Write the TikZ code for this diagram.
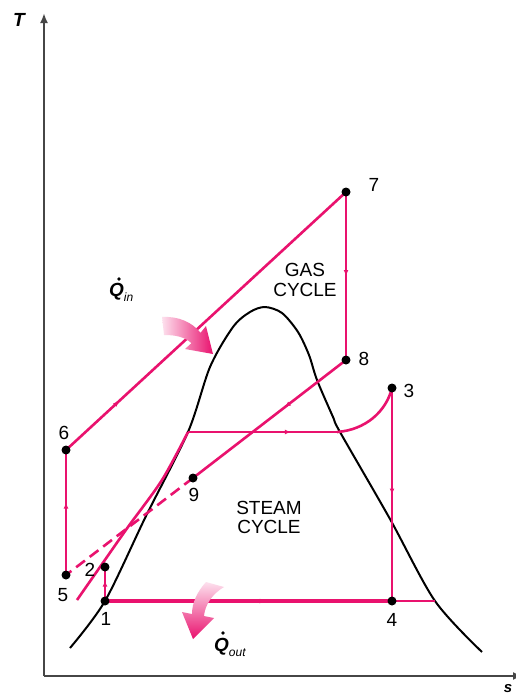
\documentclass[tikz,border=0pt]{standalone}
\usepackage{fontspec}
\setmainfont{Liberation Sans}
\usetikzlibrary{arrows.meta,decorations.markings}
\definecolor{cyc}{RGB}{233,18,110}
\definecolor{cycl}{RGB}{253,225,238}
\definecolor{axisc}{RGB}{70,70,70}
\begin{document}
\begin{tikzpicture}[x=1pt,y=-1pt,
  cycline/.style={draw=cyc,line width=2.6pt},
  mk/.style={postaction={decorate,decoration={markings,mark=at position #1 with {\arrow{Latex[length=6pt,width=5pt]}}}}},
  dot/.style={circle,fill=black,inner sep=0pt,minimum size=9pt},
  lbl/.style={font=\fontsize{19}{21}\selectfont,inner sep=0pt},
  cyctxt/.style={font=\fontsize{19}{20}\selectfont,align=center,inner sep=0pt},
  axlbl/.style={font=\fontsize{19}{21}\selectfont\bfseries\itshape,inner sep=0pt},
  qtxt/.style={font=\fontsize{19}{21}\selectfont\bfseries\itshape,inner sep=0pt,anchor=west}
]
\useasboundingbox (0,0) rectangle (515,697);
\fill[white] (0,0) rectangle (515,697);

% points
\coordinate (p1) at (105,601);
\coordinate (p2) at (105,567);
\coordinate (p3) at (392,388);
\coordinate (p4) at (392,601);
\coordinate (p5) at (66,575);
\coordinate (p6) at (66,450);
\coordinate (p7) at (346,192);
\coordinate (p8) at (346,360);
\coordinate (p9) at (193,478);
\coordinate (liqlow) at (77,600);
\coordinate (sat1) at (188,432);
\coordinate (sat2) at (337,432);
\coordinate (sat4) at (435,601);

% axes
\coordinate (O) at (44,676);
\coordinate (Ytop) at (44,13);
\coordinate (Xend) at (523,676);
\draw[axisc,line width=2.6pt,-{Latex[length=10pt,width=8pt]}] (O) -- (Ytop);
\draw[axisc,line width=2.6pt,-{Latex[length=10pt,width=8pt]}] (O) -- (Xend);
\node[axlbl] (tlab) at (19,20) {T};
\node[axlbl,font=\fontsize{15}{16}\selectfont\bfseries\itshape] (slab) at (508,689) {s};

% saturation dome
\draw[black,line width=2pt] plot[smooth,tension=0.5] coordinates {(70,648) (105,601) (146,516) (188,432) (210,367) (233,327) (250,312) (265,307) (282,313) (298,332) (309,355) (317,380) (333,417) (340,432) (390,519) (435,601) (482,652)};

% gas cycle
\draw[cycline,mk=0.19] (p6) -- (p7);
\draw[cycline,mk=0.5] (p7) -- (p8);
\draw[cycline,mk=0.4] (p8) -- (p9);
\draw[cycline,dash pattern=on 11pt off 6pt] (p9) -- (p5);
\draw[cycline,mk=0.58] (p5) -- (p6);

% steam cycle
\draw[cycline,mk=0.6] (p1) -- (p2);
\draw[cycline] plot[smooth] coordinates {(liqlow) (100,567) (128,527) (162,480) (sat1)};
\draw[cycline,mk=0.69] (sat1) -- (sat2);
\draw[cycline] (sat2) .. controls (365,430) and (386,412) .. (p3);
\draw[cycline,mk=0.5] (p3) -- (p4);
\draw[cycline] (p4) -- (sat4);
\draw[draw=cyc,line width=4pt,mk=0.48] (p4) -- (p1);

% dots
\foreach \p in {p1,p2,p3,p4,p5,p6,p7,p8,p9}
  \node[dot] (d\p) at (\p) {};

% point labels
\node[lbl] (l1) at (106,619) {1};
\node[lbl] (l2) at (90,570) {2};
\node[lbl] (l3) at (409,391) {3};
\node[lbl] (l4) at (392,620) {4};
\node[lbl] (l5) at (63,595) {5};
\node[lbl] (l6) at (64,433) {6};
\node[lbl] (l7) at (374,185) {7};
\node[lbl] (l8) at (364,359) {8};
\node[lbl] (l9) at (194,495) {9};

% cycle names
\node[cyctxt] (gas) at (305,280) {GAS\\CYCLE};
\node[cyctxt] (steam) at (269,517) {STEAM\\[-1pt]CYCLE};

% heat arrows
\shade[left color=cycl,right color=cyc]
  (162,317) .. controls (178,316) and (192,322) .. (200.6,332.8)
  -- (206,326) -- (213,354) -- (185,349) -- (191.4,343.2)
  .. controls (185,337) and (176,335) .. (164,335) -- cycle;
\shade[top color=cycl,bottom color=cyc]
  (206,582) .. controls (197,592) and (192,603) .. (192,614)
  -- (182,612) -- (193,639) -- (214,618) -- (204,616)
  .. controls (205,605) and (212,594) .. (224,587) -- cycle;

% heat labels
\node[qtxt] (qin) at (109,292) {Q\raisebox{-5pt}{\fontsize{12}{12}\selectfont\mdseries\itshape in}};
\fill (119,279) circle (1.9pt);
\node[qtxt] (qout) at (214,647) {Q\raisebox{-5pt}{\fontsize{12}{12}\selectfont\mdseries\itshape out}};
\fill (223,633) circle (1.9pt);
\end{tikzpicture}
\end{document}
